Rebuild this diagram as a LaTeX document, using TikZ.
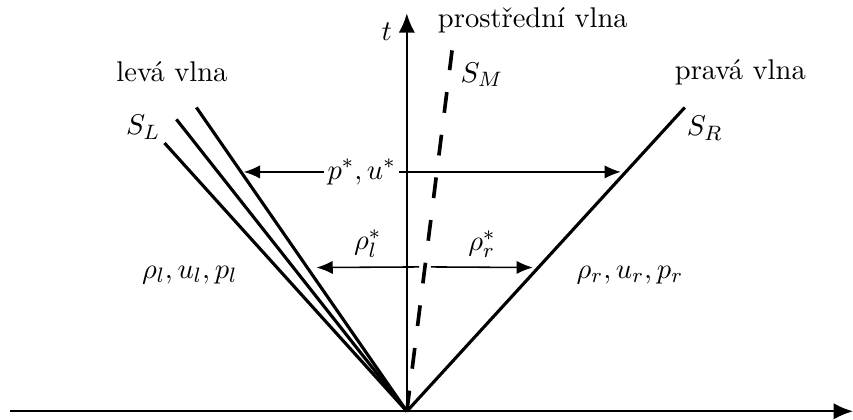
\documentclass[tikz,border=0pt]{standalone}
\usepackage{fontspec}
\usepackage{tikz}
\usetikzlibrary{arrows.meta,positioning,calc}
\tikzset{
  every node/.style={font=\fontsize{10.95}{13}\selectfont},
  osa/.style={-{Latex[length=2.6mm,width=2.2mm]}, line width=0.8pt},
  vlna/.style={line width=1.2pt},
  kontakt/.style={line width=1.4pt, dash pattern=on 8pt off 8.5pt},
  sipka/.style={-{Latex[length=2.2mm,width=1.8mm]}, line width=0.6pt},
}

\begin{document}
\begin{tikzpicture}
        \useasboundingbox (-5.49,-0.11) rectangle (6.02,5.55);
        % osy
        \coordinate (O) at (0,0);
        \coordinate (xl) at (-5.36,0);
        \coordinate (xr) at (6.02,0);
        \coordinate (tt) at (0,5.37);
        \draw[osa] (xl) -- (xr);
        \draw[osa] (O) -- (tt);
        \node (t) at (-0.27,5.12) {$t$};
        % vlny
        \coordinate (L1) at (-2.84,4.10);
        \coordinate (L2) at (-3.11,3.94);
        \coordinate (L3) at (-3.27,3.62);
        \coordinate (R) at (3.75,4.10);
        \coordinate (M) at (0.61,4.87);
        \draw[vlna] (O) -- (L1); \draw[vlna] (O) -- (L2); \draw[vlna] (O) -- (L3);
        \draw[vlna] (O) -- (R);
        \draw[kontakt] (O) -- (M);
        % popisky
        \node (lv) at (-3.17,4.58) {levá vlna};
        \node (pv) at (4.50,4.58) {pravá vlna};
        \node (sv) at (1.70,5.28) {prostřední vlna};
        \node (SL) at (-3.56,3.83) {$S_L$};
        \node (SR) at (4.02,3.82) {$S_R$};
        \node (SM) at (1.01,4.54) {$S_M$};
        \node (stl) at (-2.93,1.84) {$\rho_l,u_l,p_l$};
        \node (str) at (3.01,1.84) {$\rho_r,u_r,p_r$};
        % hvezdickove stavy
        \node[inner sep=1pt] (pu) at (-0.61,3.23) {$p^*,u^*$};
        \coordinate (a1) at ($(O)!0.775!(L1)$);
        \coordinate (a2) at ($(O)!0.77!(R)$);
        \draw[sipka] (pu.west) -- (pu.west -| a1);
        \draw[sipka] (pu.east) -- (pu.east -| a2);
        \coordinate (mst) at ($(O)!0.40!(M)$);
        \draw[sipka] ([xshift=-0.08cm]mst) -- node[above] (rl) {$\rho_l^*$} (-1.22,1.94);
        \draw[sipka] ([xshift=0.08cm]mst) -- node[above] (rr) {$\rho_r^*$} (1.70,1.94);
\end{tikzpicture}
\end{document}
